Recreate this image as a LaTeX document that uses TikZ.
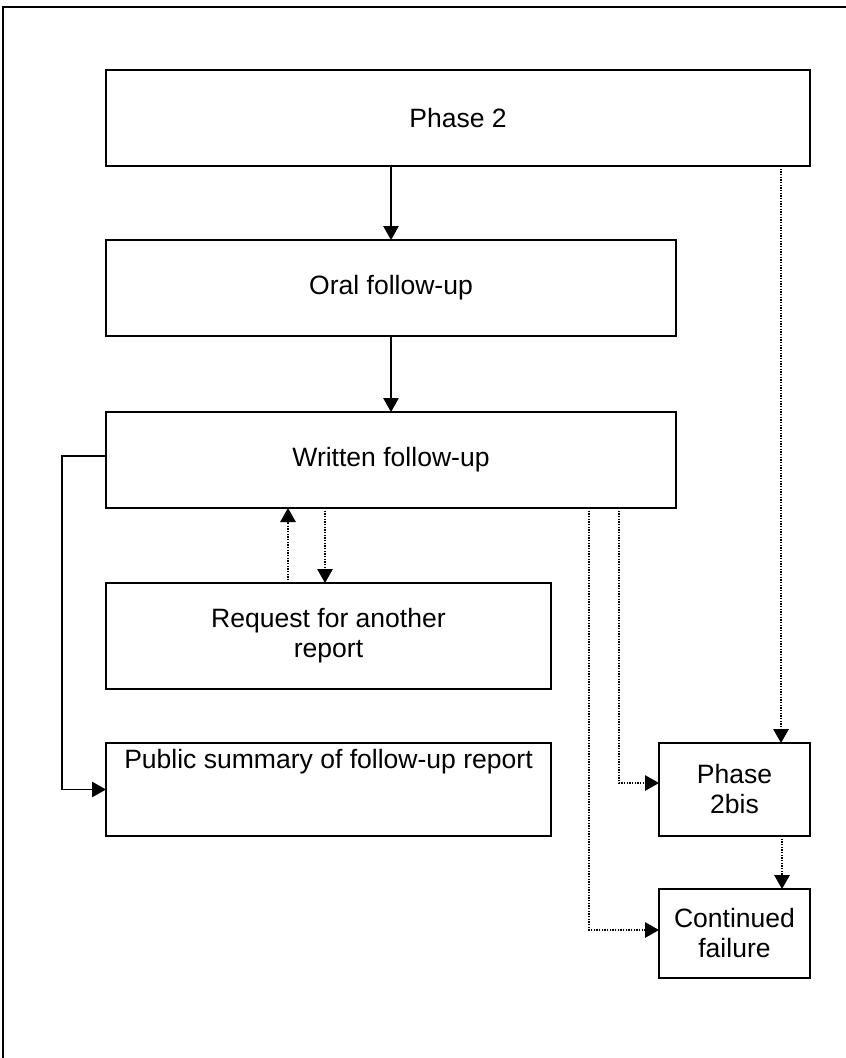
\documentclass[tikz,border=0pt]{standalone}
\usepackage{fontspec}
\setmainfont{Liberation Sans}
\usetikzlibrary{arrows.meta,calc}
\begin{document}
\begin{tikzpicture}[x=0.75pt,y=-0.75pt,
  box/.style={draw,line width=2pt,inner sep=0pt,outer sep=0pt,align=center,
    font=\fontsize{19.9}{22.5}\selectfont},
  solidarrow/.style={line width=1.3pt,-{Triangle[length=10.5pt,width=11.5pt]}},
  dotarrow/.style={line width=1.4pt,dash pattern=on 1pt off 1pt,-{Triangle[length=10.5pt,width=11.5pt]}}]
\useasboundingbox (0,0) rectangle (846,1058);
% outer frame (cut by the page at right and bottom)
\draw[line width=1.3pt] (3,1058) -- (3,7) -- (846,7);
% boxes
\node[box,minimum width=528pt,minimum height=72pt] (ph2) at (458,118) {Phase 2};
\node[box,minimum width=427.5pt,minimum height=72pt] (oral) at (391,288) {Oral follow-up};
\node[box,minimum width=427.5pt,minimum height=72pt] (written) at (391,460) {Written follow-up};
\node[box,minimum width=333.75pt,minimum height=79.5pt] (request) at (328.5,636) {Request for another\\report};
\node[box,minimum width=333.75pt,minimum height=69.75pt,
  label={[anchor=north,inner sep=0pt,font=\fontsize{19.9}{22.5}\selectfont,yshift=-4.5pt]north:Public summary of follow-up report}] (public) at (328.5,789.5) {};
\node[box,minimum width=113.25pt,minimum height=69.75pt] (bis) at (734.5,789.5) {Phase\\2bis};
\node[box,minimum width=113.25pt,minimum height=66.75pt] (cont) at (734.5,933.5) {Continued\\failure};
% solid connectors
\draw[solidarrow] (oral.north |- ph2.south) -- (oral.north);
\draw[solidarrow] (oral.south) -- (written.north);
\coordinate (wl) at ($(written.west)+(0,-4)$);
\draw[solidarrow] (wl) -- ++(-44,0) |- (public.west);
% dotted connectors
\coordinate (p1) at ($(bis.north)+(46.5,0)$);
\draw[dotarrow] (p1 |- ph2.south) -- (p1);
\coordinate (up) at ($(request.north)+(-40.5,0)$);
\draw[dotarrow] (up) -- (up |- written.south);
\coordinate (dn) at ($(request.north)+(-3.5,0)$);
\draw[dotarrow] (dn |- written.south) -- (dn);
\coordinate (w1) at ($(written.south)+(228,0)$);
\coordinate (bw) at ($(bis.west)+(0,-6.5)$);
\draw[dotarrow] (w1) |- (bw);
\coordinate (w2) at ($(written.south)+(198,0)$);
\coordinate (cw) at ($(cont.west)+(0,-3.5)$);
\draw[dotarrow] (w2) |- (cw);
\coordinate (bs) at ($(bis.south)+(47.5,0)$);
\draw[dotarrow] (bs) -- (bs |- cont.north);
\end{tikzpicture}
\end{document}
